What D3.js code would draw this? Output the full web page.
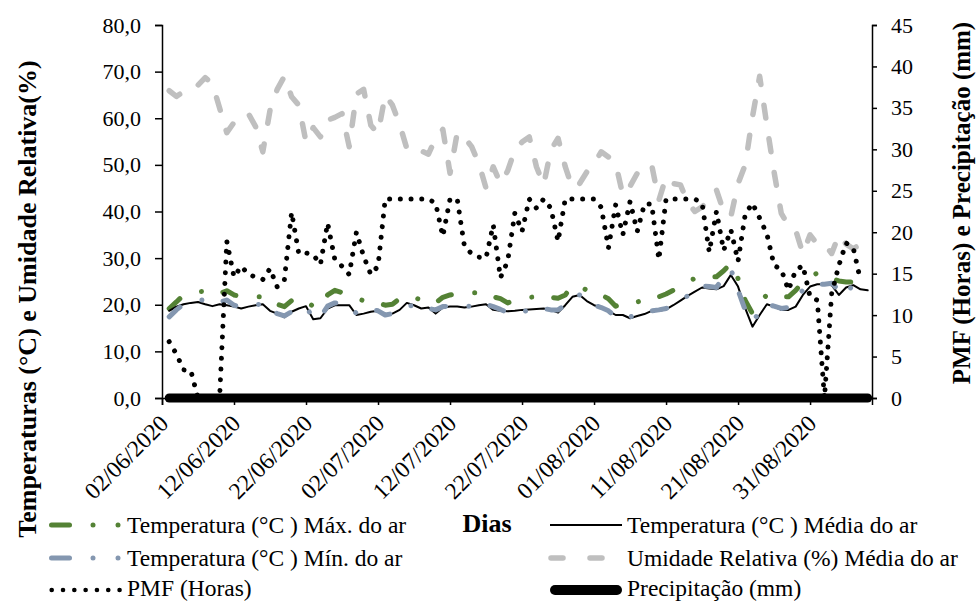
<!DOCTYPE html>
<html>
<head>
<meta charset="utf-8">
<script src="https://cdn.jsdelivr.net/npm/d3@7"></script>
<style>
  body { margin: 0; background: #fff; }
  svg { display: block; font-family: "Liberation Serif", "Times New Roman", serif; }
</style>
</head>
<body>
<div id="grafico"></div>
<script>
// Dimensiones
const ancho = 977;
const alto = 602;
const area = { izq: 162, der: 872, sup: 25, inf: 398 };

// Datos diarios: 03/06/2020 en adelante
const primerDia = "03/06/2020";
const tempMax = [19.2, 20.6, 22.1, 22.4, 22.8, 22.9, 22.4, 22.4, 23.0, 22.1,
  21.7, 21.7, 21.7, 21.7, 20.6, 20.1, 19.6, 20.9, 21.6, 20.9,
  19.6, 19.9, 22.1, 23.1, 22.6, 22.4, 21.3, 20.9, 20.6, 20.4,
  19.9, 20.1, 21.3, 22.1, 21.6, 21.0, 20.9, 20.4, 21.6, 22.1,
  22.4, 22.6, 22.6, 22.6, 22.4, 21.7, 21.3, 20.4, 21.0, 21.4,
  21.6, 21.7, 21.7, 21.6, 21.4, 22.1, 24.2, 24.0, 23.1, 22.8,
  22.1, 21.3, 19.7, 20.3, 19.9, 20.6, 21.0, 21.6, 21.7, 22.3,
  23.1, 23.9, 25.1, 25.6, 25.8, 26.0, 26.0, 27.3, 28.9, 25.6,
  20.9, 18.1, 20.6, 22.1, 22.1, 21.7, 21.7, 23.1, 24.9, 26.0,
  26.8, 26.3, 25.6, 25.1, 24.9, 24.9, 25.6, 25.8];
const tempMedia = [18.7, 19.6, 20.1, 20.4, 20.6, 20.1, 19.7, 20.1, 19.9, 19.6,
  19.2, 19.6, 19.9, 20.1, 18.7, 18.1, 17.3, 18.5, 19.2, 19.7,
  16.9, 17.1, 19.2, 19.9, 19.9, 19.9, 17.8, 18.1, 18.5, 18.7,
  17.8, 18.1, 18.9, 20.4, 19.9, 19.2, 19.4, 18.1, 19.4, 19.6,
  19.6, 19.4, 19.6, 19.9, 20.1, 18.9, 18.7, 18.6, 18.7, 18.9,
  19.0, 19.1, 19.2, 18.9, 18.3, 19.9, 21.7, 22.1, 20.8, 19.9,
  19.4, 18.7, 17.8, 17.8, 17.1, 17.6, 18.0, 18.7, 18.7, 19.0,
  19.9, 20.9, 21.9, 22.8, 23.7, 23.5, 23.3, 24.0, 26.4, 23.9,
  19.2, 15.3, 17.8, 20.1, 19.6, 18.9, 18.9, 19.6, 22.1, 23.9,
  24.4, 24.4, 24.2, 22.1, 23.7, 24.2, 23.3, 23.1];
const tempMin = [17.4, 18.9, 20.1, 20.4, 20.9, 21.1, 20.4, 20.6, 21.0, 19.9,
  19.4, 19.6, 19.9, 20.3, 18.7, 18.1, 17.6, 18.5, 19.2, 19.6,
  17.1, 17.4, 19.7, 20.4, 20.1, 19.9, 18.1, 18.5, 19.0, 18.7,
  17.8, 18.1, 19.0, 19.9, 19.7, 18.9, 19.2, 18.9, 19.6, 19.7,
  19.9, 19.6, 19.7, 20.3, 20.1, 19.6, 19.0, 18.3, 17.8, 18.5,
  18.8, 19.2, 19.2, 18.9, 18.9, 19.9, 21.7, 22.1, 20.6, 19.9,
  19.4, 18.7, 17.4, 18.1, 17.4, 17.8, 18.5, 18.7, 18.9, 19.2,
  19.9, 21.0, 21.9, 22.8, 24.0, 23.9, 23.7, 26.0, 27.6, 23.1,
  18.8, 16.3, 18.5, 20.1, 19.7, 19.2, 19.4, 21.7, 23.1, 24.0,
  24.4, 24.4, 24.6, 23.1, 24.9, 22.8, 23.1, 23.1];
const umidade = [65.9, 64.7, 65.7, 66.2, 67.1, 68.7, 67.4, 62.2, 56.9, 59.1,
  60.3, 61.0, 58.2, 52.8, 61.7, 66.2, 69.0, 64.6, 62.8, 54.9,
  58.0, 56.0, 59.6, 60.2, 61.0, 53.9, 65.2, 66.2, 58.5, 56.7,
  65.0, 62.8, 58.7, 53.5, 54.0, 53.0, 52.3, 55.7, 57.6, 48.2,
  56.9, 55.9, 53.9, 50.3, 45.0, 49.6, 46.0, 48.7, 53.2, 54.9,
  56.0, 49.6, 45.7, 53.2, 55.7, 49.6, 45.0, 46.0, 48.5, 50.3,
  52.8, 51.7, 50.3, 43.5, 45.4, 48.2, 49.6, 50.0, 42.4, 47.4,
  46.0, 45.7, 42.0, 40.0, 41.0, 42.4, 44.6, 40.0, 38.9, 46.0,
  50.0, 60.3, 69.0, 58.5, 48.5, 39.6, 37.0, 36.0, 31.0, 35.0,
  33.0, 33.0, 31.0, 35.0, 33.0, 32.0, 33.0];
const pmf = [6.8, 5.3, 3.4, 3.3, 0, 0, 0, 0, 18.9, 14.6,
  15.9, 14.9, 14.6, 14.3, 15.6, 13.4, 14.3, 22.4, 17.4, 17.5,
  17.3, 16.1, 21.1, 16.7, 15.9, 14.9, 20.0, 17.1, 14.9, 15.9,
  24, 24, 24, 24, 24, 24, 24, 23.5, 19.5, 24,
  24, 18.3, 17.4, 17.0, 16.9, 20.9, 14.5, 16.5, 22.3, 20.1,
  24, 22.9, 24, 22.9, 18.9, 24, 24, 24, 24, 24,
  23.0, 18.1, 23.3, 19.7, 23.7, 20.1, 23.4, 23.4, 16.7, 24,
  24, 24, 24, 24, 23.5, 17.6, 22.5, 17.8, 20.3, 16.5,
  22.2, 23.5, 21.7, 19.8, 16.0, 15.5, 13.0, 15.4, 16.0, 12.2,
  11.8, 0, 12.6, 16.0, 18.7, 18.1, 14.2];
const precipitacao = [0, 0, 0, 0, 0, 0, 0, 0, 0, 0, 0, 0, 0, 0, 0, 0, 0, 0, 0, 0,
  0, 0, 0, 0, 0, 0, 0, 0, 0, 0, 0, 0, 0, 0, 0, 0, 0, 0, 0, 0,
  0, 0, 0, 0, 0, 0, 0, 0, 0, 0, 0, 0, 0, 0, 0, 0, 0, 0, 0, 0,
  0, 0, 0, 0, 0, 0, 0, 0, 0, 0, 0, 0, 0, 0, 0, 0, 0, 0, 0, 0,
  0, 0, 0, 0, 0, 0, 0, 0, 0, 0, 0, 0, 0, 0, 0, 0, 0, 0];

// Ejes
const rotulosX = ["02/06/2020", "12/06/2020", "22/06/2020", "02/07/2020", "12/07/2020",
  "22/07/2020", "01/08/2020", "11/08/2020", "21/08/2020", "31/08/2020"];
const ticksIzq = [0, 10, 20, 30, 40, 50, 60, 70, 80];
const ticksDer = [0, 5, 10, 15, 20, 25, 30, 35, 40, 45];

const parse = d3.utcParse("%d/%m/%Y");
const dia0 = parse(primerDia);
const fecha = i => d3.utcDay.offset(dia0, i);

const inicioEje = parse(rotulosX[0]);
const escalaX = d3.scaleUtc()
  .domain([inicioEje, new Date(inicioEje.getTime() + 98.6 * 864e5)])
  .range([area.izq, area.der]);
const escalaYIzq = d3.scaleLinear().domain([0, 80]).range([area.inf, area.sup]);
const escalaYDer = d3.scaleLinear().domain([0, 45]).range([area.inf, area.sup]);

const svg = d3.select("#grafico").append("svg")
  .attr("width", ancho)
  .attr("height", alto);

const lineaIzq = d3.line().x((d, i) => escalaX(fecha(i))).y(d => escalaYIzq(d));
const lineaDer = d3.line().x((d, i) => escalaX(fecha(i))).y(d => escalaYDer(d));

const verde = "#548235";
const azul = "#8497B0";
const gris = "#BFBFBF";

// Series
const series = [
  { datos: tempMax, linea: lineaIzq, color: verde, ancho: 5, dash: "14.5,23.5,0.01,22" },
  { datos: tempMedia, linea: lineaIzq, color: "#000", ancho: 2, dash: null },
  { datos: tempMin, linea: lineaIzq, color: azul, ancho: 5, dash: "14.5,23.5,0.01,22" },
  { datos: umidade, linea: lineaIzq, color: gris, ancho: 5.5, dash: "13,21" },
  { datos: pmf, linea: lineaDer, color: "#000", ancho: 5, dash: "0.01,10.7" },
  { datos: precipitacao, linea: lineaDer, color: "#000", ancho: 9, dash: null }
];

// Ejes (debajo de las series)
svg.append("g")
  .attr("transform", `translate(${area.izq},0)`)
  .call(d3.axisLeft(escalaYIzq).tickValues(ticksIzq).tickSize(7).tickPadding(14)
    .tickFormat(d => d3.format(".1f")(d).replace(".", ",")));

svg.append("g")
  .attr("transform", `translate(${area.der},0)`)
  .call(d3.axisRight(escalaYDer).tickValues(ticksDer).tickSize(5).tickPadding(14));

svg.append("g")
  .attr("transform", `translate(0,${area.inf})`)
  .call(d3.axisBottom(escalaX).tickValues(rotulosX.map(parse)).tickSize(7).tickFormat(""));

svg.selectAll(".domain").attr("stroke", "#000").attr("stroke-width", 1.5);
svg.selectAll(".tick line").attr("stroke", "#000").attr("stroke-width", 1.5);
svg.selectAll(".tick text").attr("font-size", 22).attr("fill", "#000")
  .attr("font-family", "Liberation Serif, Times New Roman, serif");

// Rótulos X rotados
svg.append("g").selectAll("text")
  .data(rotulosX)
  .join("text")
  .attr("transform", d => `translate(${escalaX(parse(d)) + 2},${area.inf + 21}) rotate(-45)`)
  .attr("text-anchor", "end")
  .attr("dy", "0.35em")
  .attr("font-size", 23.5)
  .text(d => d);

svg.append("g").selectAll("path")
  .data(series)
  .join("path")
  .attr("d", s => s.linea(s.datos))
  .attr("fill", "none")
  .attr("stroke", s => s.color)
  .attr("stroke-width", s => s.ancho)
  .attr("stroke-linecap", "round")
  .attr("stroke-linejoin", "round")
  .attr("stroke-dasharray", s => s.dash);

// Títulos de ejes
svg.append("text")
  .attr("transform", "translate(27,299) rotate(-90)")
  .attr("text-anchor", "middle")
  .attr("dy", "0.35em")
  .attr("font-size", 26)
  .attr("font-weight", "bold")
  .text("Temperaturas (°C) e Umidade Relativa(%)");

svg.append("text")
  .attr("transform", "translate(961,203) rotate(-90)")
  .attr("text-anchor", "middle")
  .attr("dy", "0.35em")
  .attr("font-size", 25)
  .attr("font-weight", "bold")
  .text("PMF (Horas) e Precipitação (mm)");

svg.append("text")
  .attr("x", 487)
  .attr("y", 532)
  .attr("text-anchor", "middle")
  .attr("font-size", 26)
  .attr("font-weight", "bold")
  .text("Dias");

// Leyenda
const leyenda = svg.append("g");
const filas = [525, 558, 590];
const textoY = [533, 566, 596];

function simboloDashDot(y, color) {
  leyenda.append("line").attr("x1", 51.5).attr("x2", 69.5).attr("y1", y).attr("y2", y)
    .attr("stroke", color).attr("stroke-width", 5).attr("stroke-linecap", "round");
  [93, 118].forEach(cx => leyenda.append("circle").attr("cx", cx).attr("cy", y).attr("r", 2.5).attr("fill", color));
}
simboloDashDot(filas[0], verde);
simboloDashDot(filas[1], azul);
leyenda.append("line").attr("x1", 51.7).attr("x2", 120).attr("y1", filas[2]).attr("y2", filas[2])
  .attr("stroke", "#000").attr("stroke-width", 4.6).attr("stroke-linecap", "round")
  .attr("stroke-dasharray", "0.01,11.3");

leyenda.append("line").attr("x1", 550).attr("x2", 622).attr("y1", filas[0]).attr("y2", filas[0])
  .attr("stroke", "#000").attr("stroke-width", 2);
leyenda.append("line").attr("x1", 551).attr("x2", 602).attr("y1", filas[1]).attr("y2", filas[1])
  .attr("stroke", gris).attr("stroke-width", 5.5).attr("stroke-linecap", "round")
  .attr("stroke-dasharray", "12,27");
leyenda.append("line").attr("x1", 555).attr("x2", 617).attr("y1", filas[2]).attr("y2", filas[2])
  .attr("stroke", "#000").attr("stroke-width", 10).attr("stroke-linecap", "round");

const textosLeyenda = [
  { x: 127, y: textoY[0], t: "Temperatura (°C ) Máx. do ar" },
  { x: 627, y: textoY[0], t: "Temperatura (°C ) Média do ar" },
  { x: 127, y: textoY[1], t: "Temperatura (°C ) Mín. do ar" },
  { x: 627, y: textoY[1], t: "Umidade Relativa (%) Média do ar" },
  { x: 127, y: textoY[2], t: "PMF (Horas)" },
  { x: 627, y: textoY[2], t: "Precipitação (mm)" }
];
leyenda.selectAll("text")
  .data(textosLeyenda)
  .join("text")
  .attr("x", d => d.x)
  .attr("y", d => d.y)
  .attr("font-size", 23.5)
  .text(d => d.t);
</script>
</body>
</html>
